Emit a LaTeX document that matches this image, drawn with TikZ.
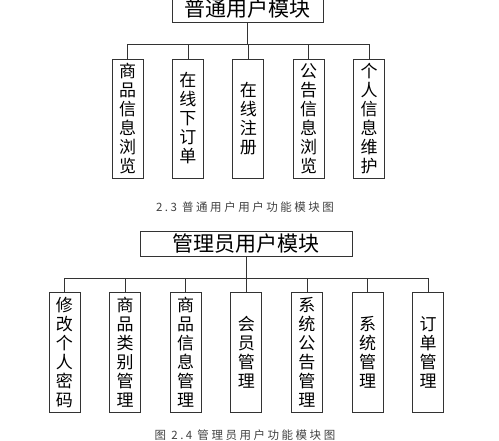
\documentclass[tikz,border=0pt]{standalone}
\usepackage{fontspec}
\setmainfont{Noto Sans CJK SC}
\newfontfamily\capfont[LetterSpace=22]{Noto Sans CJK SC}
\usetikzlibrary{positioning}
\definecolor{linegray}{HTML}{333333}
\tikzset{
  root/.style={rectangle, draw=linegray, line width=0.8pt, inner sep=0pt, font=\fontsize{21}{21}\selectfont},
  leaf/.style={rectangle, draw=linegray, line width=0.8pt, inner sep=0pt, minimum width=31pt, align=center, font=\fontsize{17}{19}\selectfont},
  link/.style={draw=linegray, line width=0.8pt},
  caption/.style={font=\capfont\fontsize{11.5}{11.5}\selectfont, text=black!75}
}
\begin{document}
\begin{tikzpicture}[x=1pt,y=-1pt]
\useasboundingbox (0,0) rectangle (499,441);

% upper tree
\node (user) [root, minimum width=151pt, minimum height=26pt] at (247.5,9) {普通用户模块};
\coordinate (ubus) at (247.5,44);
\foreach \txt [count=\i from 0] in {商\\品\\信\\息\\浏\\览, 在\\线\\下\\订\\单, 在\\线\\注\\册, 公\\告\\信\\息\\浏\\览, 个\\人\\信\\息\\维\\护}
  \node (u\i) [leaf, minimum height=119pt] at (127.5+60.4*\i,118.5) {\txt};
\draw [link] (user) -- (ubus);
\foreach \i in {0,...,4}
  \draw [link] (ubus) -| (u\i.north);
\node (ucap) [caption] at (245,207) {2.3 普通用户用户功能模块图};

% lower tree
\node (admin) [root, minimum width=212pt, minimum height=25pt] at (246,243.5) {管理员用户模块};
\coordinate (abus) at (246,278);
\foreach \txt [count=\i from 0] in {修\\改\\个\\人\\密\\码, 商\\品\\类\\别\\管\\理, 商\\品\\信\\息\\管\\理, 会\\员\\管\\理, 系\\统\\公\\告\\管\\理, 系\\统\\管\\理, 订\\单\\管\\理}
  \node (a\i) [leaf, minimum height=120pt] at (64.5+60.6*\i,352) {\txt};
\draw [link] (admin) -- (abus);
\foreach \i in {0,...,6}
  \draw [link] (abus) -| (a\i.north);
\node (acap) [caption] at (245,435) {图 2.4 管理员用户功能模块图};

\end{tikzpicture}
\end{document}
